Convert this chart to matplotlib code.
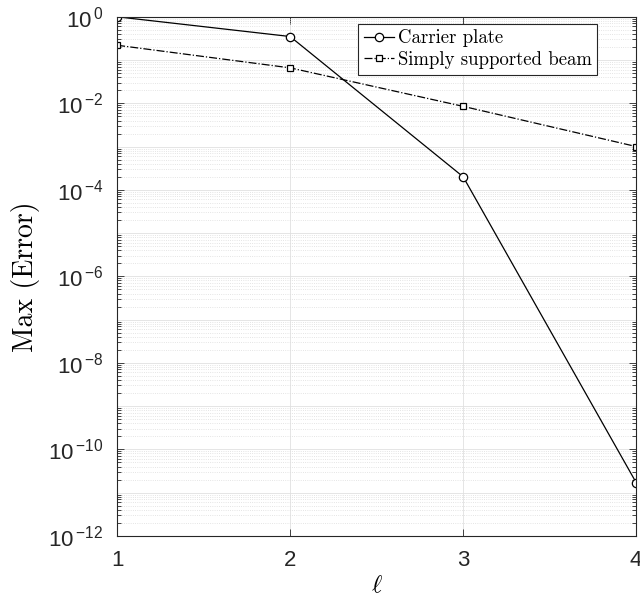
import numpy as np
import matplotlib.pyplot as plt
from matplotlib.ticker import LogLocator, NullFormatter, FuncFormatter

plt.rcParams['font.family'] = ['Liberation Sans', 'DejaVu Sans']

ell = [1, 2, 3, 4]
carrier = [1.0, 0.35, 2.0e-4, 1.7e-11]  # Carrier plate
beam = [0.22, 0.066, 0.0085, 0.0010]    # Simply supported beam

fig = plt.figure(figsize=(6.4, 6.0), dpi=100)
ax = fig.add_axes([0.183, 0.107, 0.811, 0.865])

ax.semilogy(ell, carrier, '-o', color='k', lw=0.9, ms=6, mfc='white',
            mew=0.9, label='Carrier plate')
ax.semilogy(ell, beam, '-.s', color='k', lw=0.9, ms=4.5, mfc='white',
            mew=0.9, label='Simply supported beam')

ax.set_xlim(1, 4)
ax.set_ylim(1e-12, 1e0)
ax.set_xticks(ell)
ax.set_yticks([10.0**k for k in range(-12, 1, 2)])
ax.yaxis.set_major_formatter(FuncFormatter(
    lambda v, p: r'$\mathdefault{10}^{\,\mathdefault{%d}}$' % round(np.log10(v))))
ax.yaxis.set_minor_locator(LogLocator(base=10, subs=np.arange(2, 10), numticks=20))
ax.yaxis.set_minor_formatter(NullFormatter())

# major grid: every decade on y
for k in range(-12, 1):
    ax.axhline(10.0**k, color='#e0e0e0', lw=0.6, zorder=0)
ax.grid(True, which='major', axis='x', color='#e0e0e0', lw=0.6)
ax.grid(True, which='minor', axis='y', color='#dcdcdc', lw=0.6, ls=':')
ax.set_axisbelow(True)

ax.tick_params(which='both', direction='in', top=True, right=True,
               labelsize=16, colors='#262626', width=0.6)
ax.tick_params(axis='x', pad=10)
ax.tick_params(axis='y', pad=10)
ax.tick_params(which='major', length=5)
ax.tick_params(which='minor', length=3)
for s in ax.spines.values():
    s.set_linewidth(0.8)
    s.set_color('#262626')

ax.set_ylabel('Max (Error)', fontfamily='cmr10', fontsize=20, labelpad=6)
ax.set_xlabel(r'$\ell$', math_fontfamily='cm', fontsize=18, labelpad=2)

leg = ax.legend(loc='upper right', bbox_to_anchor=(0.925, 0.987),
                prop={'family': 'cmr10', 'size': 13.5}, fancybox=False,
                edgecolor='#262626', framealpha=1, handlelength=1.6,
                handletextpad=0.2, borderpad=0.3, labelspacing=0.2,
                borderaxespad=0)
leg.get_frame().set_linewidth(0.8)

fig.savefig('out.png', dpi=100)
